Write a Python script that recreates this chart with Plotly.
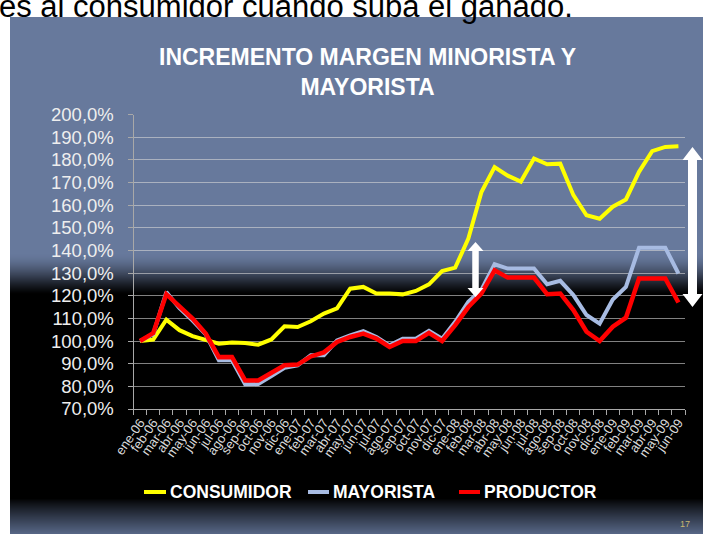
import plotly.graph_objects as go

W, H = 703, 534

months = ["ene", "feb", "mar", "abr", "may", "jun", "jul", "ago", "sep", "oct", "nov", "dic"]
categories = [f"{m}-{y:02d}" for y in (6, 7, 8) for m in months] + [f"{m}-09" for m in months[:6]]

consumidor = [100.0, 100.6, 109.4, 104.8, 102.2, 100.3, 98.8, 99.3, 99.1, 98.4, 100.7, 106.5,
              106.2, 108.7, 112.1, 114.4, 123.1, 123.9, 121.0, 121.0, 120.6, 122.1, 125.0, 130.9,
              132.4, 145.2, 165.8, 176.8, 173.0, 170.4, 180.6, 178.0, 178.3, 164.4, 155.5, 154.0,
              159.3, 162.5, 174.7, 183.8, 185.7, 186.0]
mayorista = [100.0, 103.0, 121.6, 114.5, 109.0, 103.0, 91.5, 91.5, 80.9, 81.0, 84.5, 88.2,
             89.3, 93.7, 93.7, 100.3, 102.5, 104.4, 101.8, 98.1, 101.0, 101.0, 104.5, 101.0,
             108.5, 117.3, 122.7, 133.9, 132.0, 132.0, 132.0, 125.1, 126.6, 120.3, 111.5, 107.7,
             118.3, 123.9, 141.2, 141.2, 141.2, 129.8]
productor = [100.0, 103.5, 120.7, 115.3, 109.9, 103.3, 92.9, 93.0, 82.6, 82.6, 85.9, 89.3,
             89.6, 93.2, 95.0, 99.6, 101.8, 103.3, 101.1, 97.4, 100.0, 100.0, 103.6, 100.0,
             107.0, 115.0, 121.0, 131.2, 128.0, 128.0, 128.0, 120.7, 121.0, 113.7, 104.1, 100.0,
             106.3, 110.3, 127.6, 127.6, 127.6, 117.0]

series_names = ["CONSUMIDOR", "MAYORISTA", "PRODUCTOR"]
series_values = [consumidor, mayorista, productor]
series_colors = ["#FFFF00", "#A7BBE2", "#FF0000"]
series_widths = [4, 4, 4.5]

y_ticks = list(range(70, 201, 10))
y_tick_labels = [f"{v},0%" for v in y_ticks]

def px(x):
    return x / W

def py(y):
    return 1 - y / H

fig = go.Figure()
for name, vals, col, wd in zip(series_names, series_values, series_colors, series_widths):
    fig.add_trace(go.Scatter(x=categories, y=vals, mode="lines", name=name,
                             line=dict(color=col, width=wd), showlegend=False, hoverinfo="skip"))

shapes = []
PANEL_TOP = 17
TOP = (103, 121, 156)
BOT = (88, 104, 136)
shapes.append(dict(type="rect", xref="paper", yref="paper", x0=px(10), x1=1, y0=py(PANEL_TOP), y1=py(253),
                   fillcolor="rgb(%d,%d,%d)" % TOP, line=dict(width=0), layer="below"))
shapes.append(dict(type="rect", xref="paper", yref="paper", x0=px(10), x1=1, y0=py(304), y1=py(499),
                   fillcolor="black", line=dict(width=0), layer="below"))
for yy in range(252, 305):
    t = (yy - 252) / 53.0
    s = t * t * (3 - 2 * t)
    s = min(1.0, s * 1.1 + 0.05 * t)
    c = tuple(int(round(v * (1 - s))) for v in TOP)
    shapes.append(dict(type="rect", xref="paper", yref="paper", x0=px(10), x1=1, y0=py(yy + 2), y1=py(yy),
                       fillcolor="rgb(%d,%d,%d)" % c, line=dict(width=0), layer="below"))
for yy in range(498, H):
    t = min(1.0, (yy - 498) / 36.0)
    s = t ** 0.9
    c = tuple(int(round(v * s)) for v in BOT)
    shapes.append(dict(type="rect", xref="paper", yref="paper", x0=px(10), x1=1, y0=py(min(H, yy + 2)), y1=py(yy),
                       fillcolor="rgb(%d,%d,%d)" % c, line=dict(width=0), layer="below"))

# white double arrows
def darrow(cx, ytop, ybot, shaft, headw, headh):
    pts = [(cx, ytop), (cx + headw / 2, ytop + headh), (cx + shaft / 2, ytop + headh),
           (cx + shaft / 2, ybot - headh), (cx + headw / 2, ybot - headh), (cx, ybot),
           (cx - headw / 2, ybot - headh), (cx - shaft / 2, ybot - headh),
           (cx - shaft / 2, ytop + headh), (cx - headw / 2, ytop + headh)]
    path = "M " + " L ".join("%.5f,%.5f" % (px(a), py(b)) for a, b in pts) + " Z"
    return dict(type="path", xref="paper", yref="paper", path=path, fillcolor="white",
                line=dict(width=0), layer="above")

shapes.append(darrow(475.5, 242, 297, 6.5, 16, 9))
shapes.append(darrow(692.5, 147, 307, 9, 20, 13))

# legend drawn as line samples + labels
leg_items = [(144, 166, 168), (308, 329, 331), (459, 480, 482)]
annotations = []
for (l0, l1, tx), name, col in zip(leg_items, series_names, series_colors):
    shapes.append(dict(type="line", xref="paper", yref="paper", x0=px(l0), x1=px(l1), y0=py(492), y1=py(492),
                       line=dict(color=col, width=4), layer="above"))
    annotations.append(dict(text="<b>%s</b>" % name, xref="paper", yref="paper", x=px(tx), y=py(492),
                            xanchor="left", yanchor="middle", showarrow=False,
                            font=dict(family="Liberation Sans, Arial", size=17.5, color="white")))

annotations.append(dict(text="<b>INCREMENTO MARGEN MINORISTA Y<br>MAYORISTA</b>", xref="paper", yref="paper",
                        x=px(367), y=py(72), xanchor="center", yanchor="middle", showarrow=False,
                        font=dict(family="Liberation Sans, Arial", size=23, color="white")))
annotations.append(dict(text="es al consumidor cuando suba el ganado.", xref="paper", yref="paper",
                        x=px(-3), y=py(6), xanchor="left", yanchor="middle", showarrow=False,
                        font=dict(family="Liberation Sans, Arial", size=31, color="black")))
annotations.append(dict(text="17", xref="paper", yref="paper", x=px(685), y=py(524),
                        xanchor="center", yanchor="middle", showarrow=False,
                        font=dict(family="Liberation Sans, Arial", size=9, color="#C8B870")))

fig.update_layout(
    width=W, height=H,
    margin=dict(l=0, r=0, t=0, b=0, pad=0, autoexpand=False),
    paper_bgcolor="white",
    plot_bgcolor="rgba(0,0,0,0)",
    shapes=shapes,
    annotations=annotations,
    showlegend=False,
    hovermode=False,
    xaxis=dict(domain=[px(133.5), px(685)], type="category", range=[-0.5, 41.5],
               tickmode="array", tickvals=categories, ticktext=categories,
               showgrid=False, showline=True, linecolor="#A8A8A8", linewidth=1,
               ticks="outside", ticklen=5, tickcolor="#A8A8A8", tickson="boundaries",
               tickangle=-55, tickfont=dict(family="Liberation Sans, Arial", size=13, color="#DADADA"),
               zeroline=False, automargin=False),
    yaxis=dict(domain=[py(409), py(114.5)], range=[70, 200],
               tickmode="array", tickvals=y_ticks, ticktext=y_tick_labels,
               showgrid=True, gridcolor="rgba(215,215,215,0.6)", gridwidth=1,
               showline=True, linecolor="#A8A8A8", linewidth=1,
               ticks="outside", ticklen=5, tickcolor="#A8A8A8", ticklabelstandoff=10,
               tickfont=dict(family="Liberation Sans, Arial", size=18.5, color="#EEEEEE"),
               zeroline=False, automargin=False),
)

fig.write_html("out.html",
               config={"displayModeBar": False, "staticPlot": True},
               post_script="document.body.style.margin='0';document.body.style.overflow='hidden';")
